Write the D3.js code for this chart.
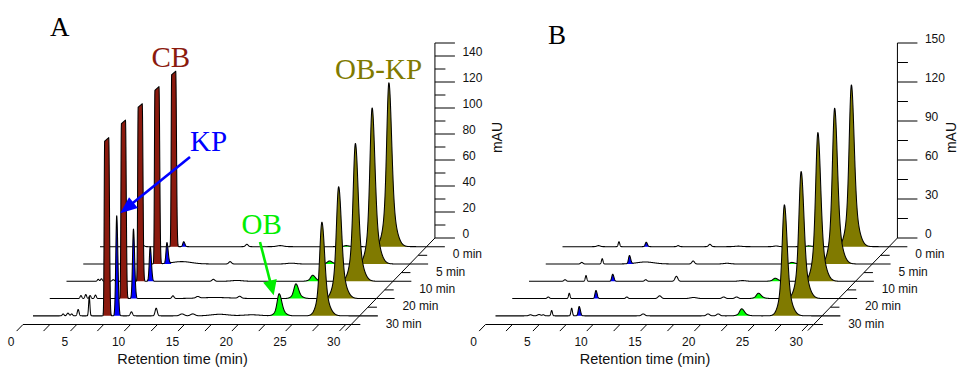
<!DOCTYPE html>
<html>
<head>
<meta charset="utf-8">
<script src="https://cdn.jsdelivr.net/npm/d3@7/dist/d3.min.js"></script>
<style>
  html, body { margin: 0; padding: 0; background: #fff; }
  svg { display: block; }
</style>
</head>
<body>
<svg id="chart" width="957" height="368"></svg>
<script>
// ---------------------------------------------------------------
// Waterfall chromatograms: five injections (0–30 min), two panels
// ---------------------------------------------------------------

// Sample rows, listed back (0 min) to front (30 min)
const sampleNames = ["0 min", "5 min", "10 min", "20 min", "30 min"];
const sampleDepth = [4, 3, 2, 1, 0];

// Axis ticks
const timeTicks = d3.range(0, 30.01, 2.5);
const timeLabels = [0, 5, 10, 15, 20, 25, 30];
const auTicksA = d3.range(0, 151, 10);
const auLabelsA = [0, 20, 40, 60, 80, 100, 120, 140];
const auTicksB = d3.range(0, 151, 15);
const auLabelsB = [0, 30, 60, 90, 120, 150];

// Retention times (min) of the identified compounds
const rtCB = 7.0, rtKP = 7.93, rtOB = 23.03, rtOBKP = 27.0;

// Panel A peak heights (mAU), one value per sample row
const cbTopA  = [133.6, 134.9, 135.2, 135.9, 135.7];
const kpA     = [3.8, 15.9, 26.6, 53.4, 77.0];
const obA     = [0.8, 2.3, 4.6, 11.3, 17.0];
const obkpA   = [126.0, 120.0, 106.0, 86.0, 72.0];

// Panel B peak heights (mAU)
const kpB     = [3.4, 6.2, 5.4, 6.2, 7.2];
const obB     = [0.6, 1.2, 2.3, 4.1, 5.4];
const obkpB   = [124.4, 119.8, 114.3, 97.7, 85.4];

// Unassigned baseline peaks: [time (min), height (mAU), sigma (min)]
const minorA = [
  [[4.2, 0.8, 0.1], [13.8, 1.8, 0.12], [16.9, 0.8, 0.3]],
  [[9.3, 1.8, 0.9], [13.8, 1.8, 0.12], [19.5, 0.6, 0.4]],
  [[3.1, 1.5, 0.08], [3.4, 1.9, 0.08], [4.5, 1.2, 0.1], [13.8, 1.5, 0.12], [16.0, 0.6, 0.5]],
  [[3.05, 2.3, 0.08], [3.5, 3.1, 0.08], [3.9, 2.3, 0.08], [4.4, 2.7, 0.08], [11.6, 2.1, 0.1],
   [13.9, 1.2, 0.15], [15.5, 0.8, 1.5], [17.8, 1.5, 0.15]],
  [[2.95, 1.5, 0.08], [3.4, 2.1, 0.1], [3.75, 1.5, 0.08], [4.35, 4.9, 0.08], [5.38, 14.6, 0.06],
   [9.3, 3.1, 0.1], [11.6, 5.9, 0.1], [14.0, 1.5, 0.2], [15.0, 1.5, 0.2], [17.5, 1.2, 0.8], [20.5, 0.8, 0.8]]
];
const minorB = [
  [[3.5, 0.8, 0.15], [5.4, 3.8, 0.07], [10.9, 0.8, 0.1], [13.85, 1.8, 0.12], [16.5, 0.4, 0.3], [20.0, 0.5, 0.2]],
  [[3.5, 1.2, 0.1], [5.4, 4.1, 0.07], [9.4, 1.5, 0.8], [13.85, 2.3, 0.12], [17.0, 0.5, 0.3]],
  [[3.5, 1.2, 0.1], [5.45, 4.4, 0.07], [11.0, 1.2, 0.1], [13.85, 3.8, 0.13], [20.0, 0.5, 0.3]],
  [[3.5, 1.2, 0.1], [5.45, 4.1, 0.07], [10.8, 1.2, 0.1], [13.85, 2.1, 0.15], [17.0, 0.8, 0.3],
   [19.8, 1.2, 0.15], [21.0, 1.2, 0.15]],
  [[3.4, 0.8, 0.15], [4.2, 1.0, 0.15], [4.6, 0.8, 0.1], [5.37, 4.1, 0.07], [7.23, 5.9, 0.07],
   [13.88, 1.5, 0.15], [19.9, 1.5, 0.15], [20.85, 1.5, 0.15]]
];

// Colours
const colCB = "#8b1a0e", colKP = "#0000ff", colOB = "#00ff00", colOBKP = "#807a00";

const FONT_SANS = "'Liberation Sans', Arial, sans-serif";
const FONT_SERIF = "'Liberation Serif', 'Times New Roman', serif";

// ---------------------------------------------------------------
// Oblique projection: time runs right, depth runs up-right, mAU up
// ---------------------------------------------------------------
const T_MAX = 30.5;
const tScale = d3.scaleLinear().domain([0, T_MAX]).range([23, 23 + 10.76 * T_MAX]);
const depthX = d3.scaleLinear().domain([0, 5]).range([0, 83.75]);
const depthY = d3.scaleLinear().domain([0, 5]).range([324.5, 238.0]);
const auScale = d3.scaleLinear().domain([0, 150]).range([0, -195]);

function proj(ox, t, v, d) {
  return [ox + tScale(t) + depthX(d), depthY(d) + auScale(v)];
}

// Peak shapes
function peakShape(p, t) {
  const s = t < p.t ? p.sl : p.sr;
  const z = (t - p.t) / s;
  const k = p.k || 0, m = p.m || 2.5;
  return p.h * ((1 - k) * Math.exp(-0.5 * z * z) + k * Math.exp(-0.5 * (z / m) * (z / m)));
}
function saturatedShape(p, t) {
  const a = p.t - p.w / 2, b = p.t + p.w / 2;
  const top = tt => p.h + p.slope * (tt - p.t);
  if (t < a) { const z = (t - a) / p.sl; return top(a) * Math.exp(-0.5 * z * z); }
  if (t > b) { const z = (t - b) / p.sr; return top(b) * Math.exp(-0.5 * z * z); }
  return top(t);
}
function shapeValue(p, t) { return p.sat ? saturatedShape(p, t) : peakShape(p, t); }
function spanOf(p) {
  if (p.sat) return [p.t - p.w / 2 - 4 * p.sl, p.t + p.w / 2 + 4 * p.sr];
  const m = p.k ? (p.m || 2.5) : 1;
  return [p.t - 3.5 * p.sl * m, p.t + 3.5 * p.sr * m];
}

const sampleTimes = d3.range(0.15, 32.2, 0.01);
const svg = d3.select("#chart");

function drawPanel(ox, cfg) {
  const g = svg.append("g");
  const ink = "#000";

  // ---- floor: time axis along the front edge
  const f0 = proj(ox, 0, 0, 0), f1 = proj(ox, T_MAX, 0, 0);
  g.append("line").attr("x1", f0[0]).attr("y1", f0[1]).attr("x2", f1[0] + 9).attr("y2", f1[1])
    .attr("stroke", ink).attr("stroke-width", 1);
  timeTicks.forEach(t => {
    const a = proj(ox, t, 0, 0), b = proj(ox, t, 0, -0.38);
    g.append("line").attr("x1", a[0]).attr("y1", a[1]).attr("x2", b[0]).attr("y2", b[1])
      .attr("stroke", ink).attr("stroke-width", 1);
  });
  timeLabels.forEach(t => {
    const a = proj(ox, t, 0, 0);
    g.append("text").attr("x", a[0] - 12).attr("y", 346).attr("text-anchor", "middle")
      .attr("font-family", FONT_SANS).attr("font-size", 12).attr("fill", "#111").text(t);
  });
  g.append("text").attr("x", ox + 182.5).attr("y", 363.5).attr("text-anchor", "middle")
    .attr("font-family", FONT_SANS).attr("font-size", 14.5).attr("fill", "#111")
    .text("Retention time (min)");

  // ---- depth axis with sample labels
  const d0 = proj(ox, T_MAX, 0, -0.35), d1 = proj(ox, T_MAX, 0, 5);
  g.append("line").attr("x1", d0[0]).attr("y1", d0[1]).attr("x2", d1[0]).attr("y2", d1[1])
    .attr("stroke", ink).attr("stroke-width", 1);
  sampleNames.forEach((name, i) => {
    const p = proj(ox, T_MAX, 0, sampleDepth[i]);
    g.append("line").attr("x1", p[0]).attr("y1", p[1]).attr("x2", p[0] + 9).attr("y2", p[1])
      .attr("stroke", ink).attr("stroke-width", 1);
    g.append("text").attr("x", p[0] + 34.5).attr("y", p[1] + 3)
      .attr("font-family", FONT_SANS).attr("font-size", 12).attr("fill", "#111").text(name);
  });

  // ---- vertical mAU axis at the back corner
  const y0 = proj(ox, T_MAX, 0, 5), y1 = proj(ox, T_MAX, 150, 5);
  g.append("line").attr("x1", y0[0]).attr("y1", y0[1]).attr("x2", y1[0]).attr("y2", y1[1])
    .attr("stroke", ink).attr("stroke-width", 1);
  cfg.auTicks.forEach(v => {
    const p = proj(ox, T_MAX, v, 5);
    const major = cfg.auLabels.includes(v) || v === 150;
    g.append("line").attr("x1", p[0]).attr("y1", p[1]).attr("x2", p[0] + (major ? 20 : 10.5)).attr("y2", p[1])
      .attr("stroke", ink).attr("stroke-width", 1);
  });
  cfg.auLabels.forEach(v => {
    const p = proj(ox, T_MAX, v, 5);
    g.append("text").attr("x", p[0] + 27.5).attr("y", p[1] - 0.5)
      .attr("font-family", FONT_SANS).attr("font-size", 12).attr("fill", "#111").text(v);
  });
  g.append("text")
    .attr("transform", `translate(${Math.min(y0[0] + 67, 955.5)},137.5) rotate(-90)`)
    .attr("text-anchor", "middle").attr("font-family", FONT_SANS).attr("font-size", 14)
    .attr("fill", "#111").text("mAU");

  // ---- chromatograms, back row first so front rows hide what is behind
  const apex = {};
  sampleNames.forEach((name, i) => {
    const d = sampleDepth[i] + 0.5;
    const compounds = cfg.compounds(i);
    const minor = cfg.minor[i].map(([t, h, s]) => ({ t, h, sl: s, sr: s }));
    const all = compounds.concat(minor);
    const pts = sampleTimes.map(t => [t, d3.sum(all, p => shapeValue(p, t))]);

    const line = d3.line()
      .x(p => proj(ox, p[0], p[1], d)[0])
      .y(p => proj(ox, p[0], p[1], d)[1]);
    const area = d3.area()
      .x(p => proj(ox, p[0], p[1], d)[0])
      .y0(() => proj(ox, 0, 0, d)[1])
      .y1(p => proj(ox, p[0], p[1], d)[1]);

    g.append("path").attr("d", area(pts)).attr("fill", "#fff");
    compounds.forEach(p => {
      const [lo, hi] = spanOf(p);
      const seg = pts.filter(q => q[0] >= lo && q[0] <= hi);
      g.append("path").attr("d", area(seg)).attr("fill", p.color);
      apex[p.name + i] = proj(ox, p.t, shapeValue(p, p.t), d);
    });
    g.append("path").attr("d", line(pts)).attr("fill", "none")
      .attr("stroke", "#000").attr("stroke-width", 1.05).attr("stroke-linejoin", "round");
  });
  return { g, apex };
}

// Panel A: before treatment
const panelA = drawPanel(0, {
  auTicks: auTicksA, auLabels: auLabelsA,
  minor: minorA,
  compounds: i => [
    { name: "CB", sat: true, t: rtCB, h: cbTopA[i], w: 0.38, slope: 7.2, sl: 0.045, sr: 0.07, color: colCB },
    { name: "KP", t: rtKP, h: kpA[i], sl: 0.085, sr: 0.11, color: colKP },
    { name: "OB", t: rtOB, h: obA[i], sl: 0.17, sr: 0.22, k: 0.3, m: 2, color: colOB },
    { name: "OBKP", t: rtOBKP, h: obkpA[i], sl: 0.19, sr: 0.24, k: 0.28, m: 2.2, color: colOBKP }
  ]
});

// Panel B: after treatment
const panelB = drawPanel(462.5, {
  auTicks: auTicksB, auLabels: auLabelsB,
  minor: minorB,
  compounds: i => [
    { name: "KP", t: rtKP, h: kpB[i], sl: 0.09, sr: 0.11, color: colKP },
    { name: "OB", t: rtOB, h: obB[i], sl: 0.17, sr: 0.22, k: 0.3, m: 2, color: colOB },
    { name: "OBKP", t: rtOBKP, h: obkpB[i], sl: 0.19, sr: 0.24, k: 0.28, m: 2.2, color: colOBKP }
  ]
});

// ---- panel letters and compound annotations
svg.append("text").attr("x", 50).attr("y", 36).attr("font-family", FONT_SERIF)
  .attr("font-size", 27).attr("fill", "#000").text("A");
svg.append("text").attr("x", 548).attr("y", 44).attr("font-family", FONT_SERIF)
  .attr("font-size", 27).attr("fill", "#000").text("B");

const labelA = panelA.g.append("g").attr("font-family", FONT_SERIF).attr("font-size", 29);
labelA.append("text").attr("x", 151.5).attr("y", 67.3).attr("fill", colCB).text("CB");
labelA.append("text").attr("x", 335).attr("y", 79).attr("fill", colOBKP).text("OB-KP");
labelA.append("text").attr("x", 190).attr("y", 150.7).attr("fill", colKP).text("KP");
labelA.append("text").attr("x", 241.5).attr("y", 234).attr("fill", "#00ee00").text("OB");

function arrow(g, from, to, color, headLen, headHalf, width) {
  const dx = to[0] - from[0], dy = to[1] - from[1];
  const L = Math.hypot(dx, dy), ux = dx / L, uy = dy / L;
  const bx = to[0] - ux * headLen, by = to[1] - uy * headLen;
  g.append("line").attr("x1", from[0]).attr("y1", from[1]).attr("x2", bx + ux * 2).attr("y2", by + uy * 2)
    .attr("stroke", color).attr("stroke-width", width);
  g.append("path")
    .attr("d", `M${to[0]},${to[1]}L${bx - uy * headHalf},${by + ux * headHalf}L${bx + uy * headHalf},${by - ux * headHalf}Z`)
    .attr("fill", color);
}
// arrows point at the 30 min KP and OB peaks
const kpTip = panelA.apex["KP4"], obTip = panelA.apex["OB4"];
arrow(panelA.g, [190, 157], [kpTip[0] + 3.5, kpTip[1] - 2.5], colKP, 17, 7, 2.6);
arrow(panelA.g, [260, 242], [obTip[0] - 5.5, obTip[1] + 1.5], "#00ee00", 15, 7, 2.6);
</script>
</body>
</html>
